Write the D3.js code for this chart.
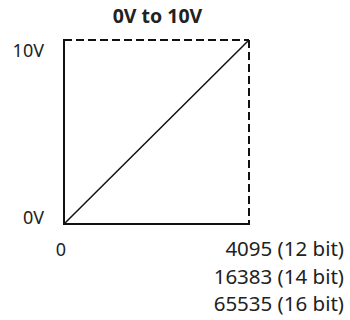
<!DOCTYPE html>
<html>
<head>
<meta charset="utf-8">
<script src="https://cdn.jsdelivr.net/npm/d3@7"></script>
<style>
  html, body { margin: 0; padding: 0; background: #fff; }
  svg { display: block; }
  text { font-family: "Noto Sans", "Open Sans", sans-serif; fill: #222; }
</style>
</head>
<body>
<svg id="chart" width="350" height="320"></svg>
<script>
// Output voltage range versus DAC code
const title = "0V to 10V";
const codeRange = [0, 4095];
const voltRange = [0, 10];
const voltLabels = ["0V", "10V"];
const codeStartLabel = "0";
const codeEndLabels = ["4095 (12 bit)", "16383 (14 bit)", "65535 (16 bit)"];
// transfer line: code -> volts
const transfer = [
  { code: 0, volts: 0 },
  { code: 4095, volts: 10 }
];

const svg = d3.select("#chart");
const x = d3.scaleLinear().domain(codeRange).range([64, 249]);
const y = d3.scaleLinear().domain(voltRange).range([224, 40]);

// title
svg.append("text")
  .attr("x", 157.5).attr("y", 23)
  .attr("text-anchor", "middle")
  .attr("font-weight", "bold")
  .attr("font-size", 19.5)
  .text(title);

// frame: solid axes on left and bottom, dashed limits on top and right
const x0 = x(codeRange[0]), x1 = x(codeRange[1]);
const y0 = y(voltRange[0]), y1 = y(voltRange[1]);

svg.append("line")
  .attr("x1", x0).attr("y1", y1).attr("x2", x1).attr("y2", y1)
  .attr("stroke", "#111").attr("stroke-width", 2)
  .attr("stroke-dasharray", "8,4");
svg.append("line")
  .attr("x1", x1).attr("y1", y1).attr("x2", x1).attr("y2", y0)
  .attr("stroke", "#111").attr("stroke-width", 2)
  .attr("stroke-dasharray", "8,4");
svg.append("path")
  .attr("d", `M${x0},${y1 - 1}V${y0}H${x1 + 1}`)
  .attr("fill", "none").attr("stroke", "#111").attr("stroke-width", 2);

// transfer line
svg.append("path")
  .datum(transfer)
  .attr("d", d3.line().x(d => x(d.code)).y(d => y(d.volts)))
  .attr("fill", "none").attr("stroke", "#111").attr("stroke-width", 1.5);

// voltage labels
svg.selectAll(".vlab").data(voltRange).enter().append("text")
  .attr("class", "vlab")
  .attr("x", 44).attr("y", d => y(d) + (d === 0 ? 0 : 17))
  .attr("text-anchor", "end")
  .attr("font-size", 18)
  .text((d, i) => voltLabels[i]);

// code labels
svg.append("text")
  .attr("x", x(codeRange[0]) - 3).attr("y", 256)
  .attr("text-anchor", "middle")
  .attr("font-size", 18)
  .text(codeStartLabel);

svg.selectAll(".clab").data(codeEndLabels).enter().append("text")
  .attr("class", "clab")
  .attr("x", 344).attr("y", (d, i) => 256 + i * 27.5)
  .attr("text-anchor", "end")
  .attr("font-size", 20.5)
  .text(d => d);
</script>
</body>
</html>
